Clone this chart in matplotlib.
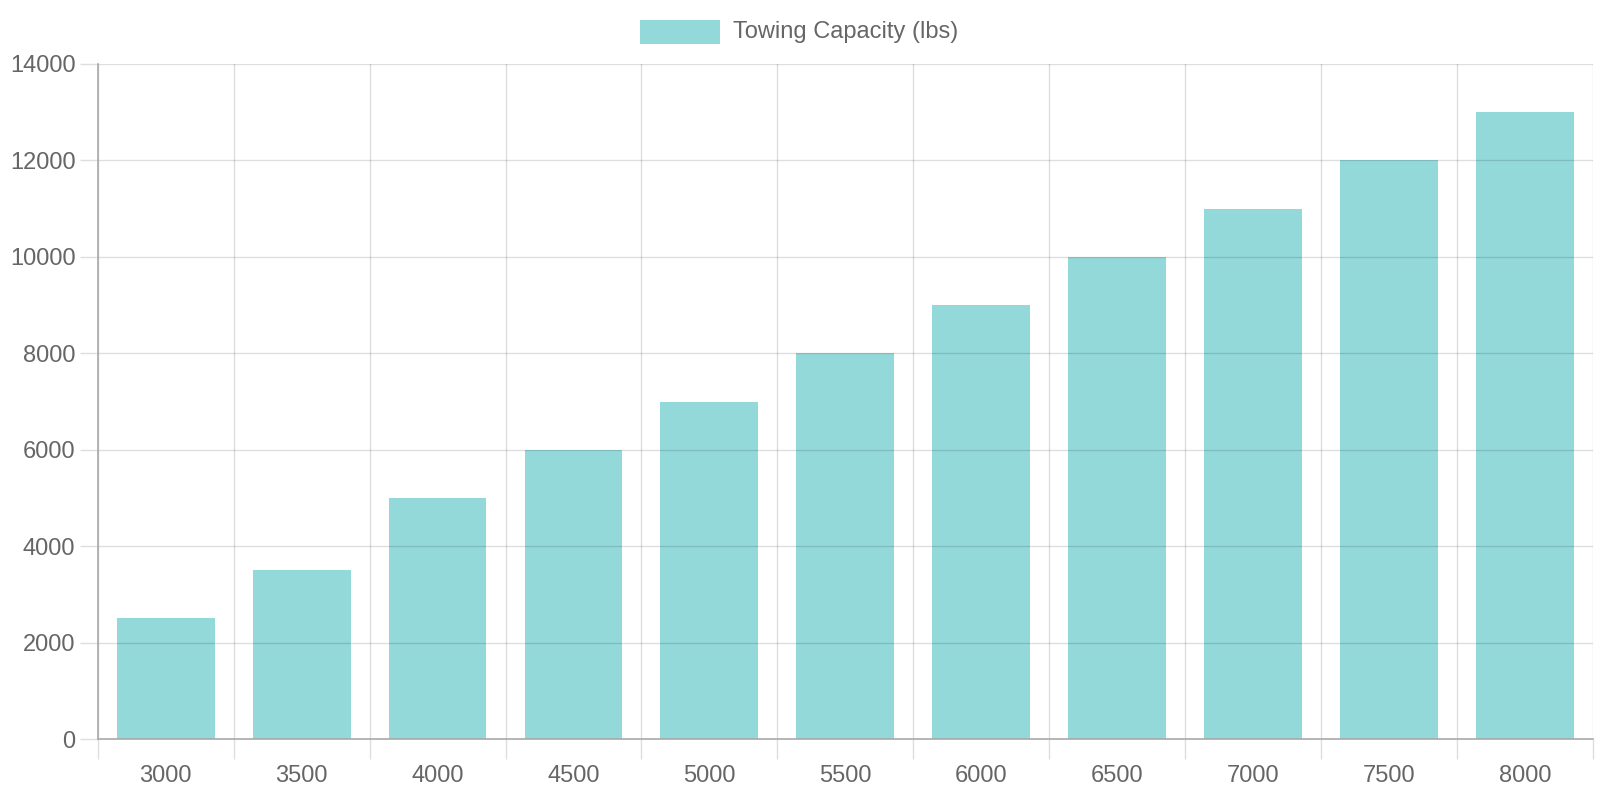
import matplotlib
matplotlib.use("Agg")
import matplotlib.pyplot as plt
from matplotlib.patches import Rectangle

plt.rcParams['font.family'] = ['Liberation Sans', 'DejaVu Sans']

# data
vehicle_weights = ['3000', '3500', '4000', '4500', '5000', '5500',
                   '6000', '6500', '7000', '7500', '8000']
towing_capacity = [2500, 3500, 5000, 6000, 7000, 8000,
                   9000, 10000, 11000, 12000, 13000]
y_ticks = [0, 2000, 4000, 6000, 8000, 10000, 12000, 14000]
legend_label = 'Towing Capacity (lbs)'

W, H = 1600, 800
bar_fill = (75/255, 192/255, 192/255, 0.6)
tick_col = '#dedede'
axis_col = '#a9a9a9'
text_col = '#666666'
fs = 17

fig = plt.figure(figsize=(16, 8), dpi=100)
ax = fig.add_axes([97.7/W, 1 - 739/H, (1593 - 97.7)/W, (739 - 64)/H])

x = range(len(vehicle_weights))
ax.bar(x, towing_capacity, width=0.72, color=bar_fill, zorder=1)

ax.set_xlim(-0.5, len(vehicle_weights) - 0.5)
ax.set_ylim(0, 14000)

# category labels at centres, ticks/grid at category boundaries
ax.set_xticks(list(x))
ax.set_xticklabels(vehicle_weights)
ax.set_xticks([i - 0.5 for i in range(len(vehicle_weights) + 1)], minor=True)
ax.tick_params(axis='x', which='major', length=0, pad=19, labelsize=fs, labelcolor=text_col)
ax.tick_params(axis='x', which='minor', length=14.5, width=1.0, color=tick_col)
ax.grid(axis='x', which='minor', color='black', alpha=0.13, linewidth=1.0)

ax.set_yticks(y_ticks)
ax.set_yticklabels([str(v) for v in y_ticks])
ax.tick_params(axis='y', length=13, width=1.0, color=tick_col, pad=3,
               labelsize=fs, labelcolor=text_col)
ax.grid(axis='y', which='major', color='black', alpha=0.13, linewidth=1.0)
ax.set_axisbelow(False)

for side in ['top', 'right']:
    ax.spines[side].set_visible(False)
for side in ['left', 'bottom']:
    ax.spines[side].set_color(axis_col)
    ax.spines[side].set_linewidth(1.2)
    ax.spines[side].set_zorder(3)

# legend drawn like the chart.js one
fig.patches.append(Rectangle((640/W, 1 - 44/H), 80/W, 24/H, transform=fig.transFigure,
                             facecolor=bar_fill, edgecolor='none'))
fig.text(733/W, 1 - 32/H, legend_label, ha='left', va='center',
         fontsize=fs, color=text_col)

fig.savefig('out.png', dpi=100)
